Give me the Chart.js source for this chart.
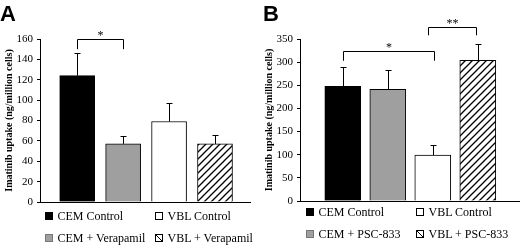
<!DOCTYPE html>
<html>
<head>
<meta charset="utf-8">
<script src="https://cdn.jsdelivr.net/npm/chart.js@4/dist/chart.umd.min.js"></script>
<style>
  html, body { margin: 0; padding: 0; background: #fff; }
  #wrap { position: relative; width: 520px; height: 246px; overflow: hidden; background: #fff; }
  canvas { position: absolute; top: 0; }
  .panel { position: absolute; font-family: "Liberation Sans", Arial, sans-serif; font-weight: bold; font-size: 22px; line-height: 22px; color: #000; }
  .lg { position: absolute; font-family: "Liberation Serif", "Times New Roman", serif; font-size: 12px; line-height: 12px; color: #000; white-space: nowrap; }
  .sw { position: absolute; width: 8px; height: 8px; box-sizing: border-box; }
</style>
</head>
<body>
<div id="wrap">
  <canvas id="cA" width="260" height="246" style="left:0;width:260px;height:246px"></canvas>
  <canvas id="cB" width="260" height="246" style="left:260px;width:260px;height:246px"></canvas>
  <div class="panel" style="left:0;top:3px">A</div>
  <div class="panel" style="left:263px;top:3px">B</div>
  <div id="legends"></div>
</div>
<script>
// ---------- data ----------
const categoriesA = ["CEM Control", "CEM + Verapamil", "VBL Control", "VBL + Verapamil"];
const valuesA     = [124, 57, 79, 57];
const errTopA     = [146, 65, 97.5, 66];
const yTicksA     = [0, 20, 40, 60, 80, 100, 120, 140, 160];

const categoriesB = ["CEM Control", "CEM + PSC-833", "VBL Control", "VBL + PSC-833"];
const valuesB     = [248, 241, 99, 304];
const errTopB     = [289, 284, 121, 340];
const yTicksB     = [0, 50, 100, 150, 200, 250, 300, 350];

const yTitle = "Imatinib uptake (ng/million cells)";

// significance brackets: [fromIndex, toIndex, topValue, endValue, label]
const bracketsA = [[0, 1, 160, 150, "*"]];
const bracketsB = [[0, 2.03, 325, 303, "*"], [1.9, 2.96, 375, 358, "**"]];

// ---------- styles ----------
const GRAY = "#9f9f9f";
function hatchPattern() {
  const s = 7;
  const c = document.createElement("canvas");
  c.width = s; c.height = s;
  const g = c.getContext("2d");
  g.fillStyle = "#fff"; g.fillRect(0, 0, s, s);
  g.strokeStyle = "#000"; g.lineWidth = 1.3;
  g.beginPath();
  g.moveTo(0, s); g.lineTo(s, 0);
  g.moveTo(-1, 1); g.lineTo(1, -1);
  g.moveTo(s - 1, s + 1); g.lineTo(s + 1, s - 1);
  g.stroke();
  return document.getElementById("cA").getContext("2d").createPattern(c, "repeat");
}
const HATCH = hatchPattern();
const fills = ["#000", GRAY, "#fff", HATCH];

const errorBarPlugin = {
  id: "errbars",
  afterDatasetsDraw(chart, args, opts) {
    const { ctx } = chart;
    const xs = chart.scales.x, ys = chart.scales.y;
    ctx.save();
    ctx.strokeStyle = "#000"; ctx.lineWidth = 1;
    opts.values.forEach((v, i) => {
      const x = Math.round(xs.getPixelForValue(i)) + 0.5;
      const y0 = ys.getPixelForValue(v);
      const y1 = Math.round(ys.getPixelForValue(opts.tops[i])) + 0.5;
      ctx.beginPath();
      ctx.moveTo(x, y0); ctx.lineTo(x, y1);
      ctx.moveTo(x - 3, y1); ctx.lineTo(x + 3, y1);
      ctx.stroke();
    });
    ctx.restore();
  }
};

const bracketPlugin = {
  id: "brackets",
  afterDraw(chart, args, opts) {
    const { ctx } = chart;
    const xs = chart.scales.x, ys = chart.scales.y;
    ctx.save();
    ctx.strokeStyle = "#000"; ctx.fillStyle = "#000"; ctx.lineWidth = 1;
    ctx.font = "12px 'Liberation Serif', serif";
    ctx.textAlign = "center"; ctx.textBaseline = "alphabetic";
    opts.list.forEach(([a, b, top, end, label]) => {
      const xa = Math.round(xs.getPixelForValue(a)) + 0.5;
      const xb = Math.round(xs.getPixelForValue(b)) + 0.5;
      const yt = Math.round(ys.getPixelForValue(top)) + 0.5;
      const ye = ys.getPixelForValue(end);
      ctx.beginPath();
      ctx.moveTo(xa, ye); ctx.lineTo(xa, yt); ctx.lineTo(xb, yt); ctx.lineTo(xb, ye);
      ctx.stroke();
      ctx.fillText(label, (xa + xb) / 2, yt - 1);
    });
    ctx.restore();
  }
};

function makeChart(id, cats, vals, tops, ticks, brackets, xmin, xmax, padRight, padBottom, thick) {
  const yMax = ticks[ticks.length - 1];
  return new Chart(document.getElementById(id), {
    type: "bar",
    data: {
      datasets: [{
        data: vals.map((v, i) => ({ x: i, y: v })),
        backgroundColor: fills,
        borderColor: "#000",
        borderWidth: 1,
        barThickness: thick
      }]
    },
    options: {
      responsive: false,
      animation: false,
      devicePixelRatio: 1,
      layout: { padding: { left: 0, top: 39, right: padRight, bottom: padBottom } },
      plugins: {
        legend: { display: false },
        tooltip: { enabled: false },
        errbars: { values: vals, tops: tops },
        brackets: { list: brackets }
      },
      scales: {
        x: {
          type: "linear",
          min: xmin, max: xmax,
          offset: false,
          bounds: "data",
          ticks: { display: false },
          grid: { display: false, offset: false },
          border: { display: true, color: "#000", width: 1 },
          afterFit(s) { s.height = 0; }
        },
        y: {
          min: 0, max: yMax,
          afterBuildTicks(s) { s.ticks = ticks.map(v => ({ value: v })); },
          ticks: {
            color: "#000",
            padding: 4,
            font: { family: "'Liberation Serif', 'Times New Roman', serif", size: 11 }
          },
          grid: { display: true, drawOnChartArea: false, drawTicks: true, tickLength: 3, color: "#000", lineWidth: 1 },
          border: { display: true, color: "#000", width: 1 },
          title: {
            display: true,
            text: yTitle,
            color: "#000",
            padding: { top: 3, bottom: 0 },
            font: { family: "'Liberation Serif', 'Times New Roman', serif", size: 10, weight: "bold" }
          },
          afterFit(s) { s.width = 40; }
        }
      }
    },
    plugins: [errorBarPlugin, bracketPlugin]
  });
}

makeChart("cA", categoriesA, valuesA, errTopA, yTicksA, bracketsA, -0.81, 3.762, 10, 44, 35);
makeChart("cB", categoriesB, valuesB, errTopB, yTicksB, bracketsB, -0.951, 3.916, 1, 45, 36);

// ---------- HTML legends ----------
const swStyles = [
  "background:#000;",
  "background:" + GRAY + ";border:1px solid #777;",
  "background:#fff;border:1px solid #000;",
  "background:linear-gradient(to top right,#fff 43%,#000 43%,#000 57%,#fff 57%);border:1px solid #000;"
];
function legend(cats, x0, x1, y0, y1) {
  const host = document.getElementById("legends");
  const pos = [[x0, y0], [x0, y1], [x1, y0], [x1, y1]];
  cats.forEach((c, i) => {
    const [x, y] = pos[i];
    const sw = document.createElement("div");
    sw.className = "sw";
    sw.style.cssText = "left:" + x + "px;top:" + y + "px;" + swStyles[i];
    host.appendChild(sw);
    const t = document.createElement("div");
    t.className = "lg";
    t.textContent = c;
    t.style.left = (x + 12.5) + "px";
    t.style.top = (y - 1.7) + "px";
    host.appendChild(t);
  });
}
legend(categoriesA, 45, 155, 212, 234);
legend(categoriesB, 306, 416, 208, 230);
</script>
</body>
</html>
